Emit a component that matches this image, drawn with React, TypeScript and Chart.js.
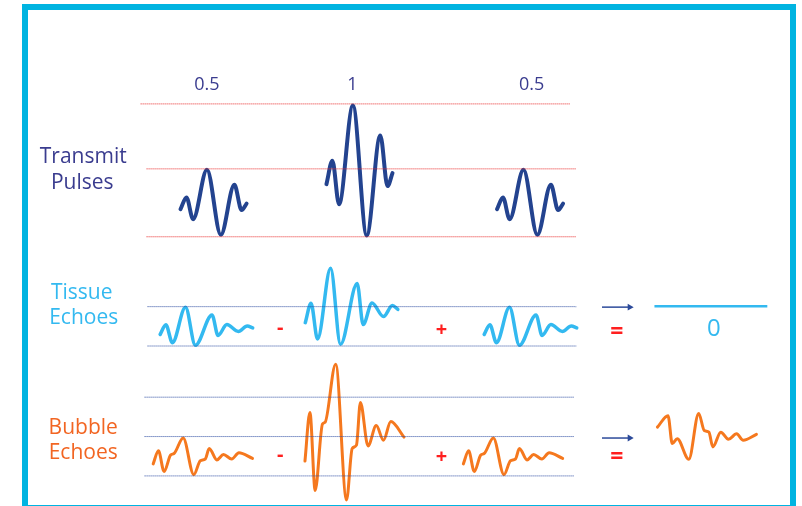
import { useEffect, useRef } from "react";
import { Chart, registerables } from "chart.js";
Chart.register(...registerables);

// ---------------- data ----------------
const amplitudeLabels = ["0.5", "1", "0.5"];
const pulseGains = [0.5, 1, 0.5];
const rowTitles = [["Transmit", "Pulses"], ["Tissue", "Echoes"], ["Bubble", "Echoes"]];
const rowOperators = ["-", "+", "="];
const tissueSumLabel = "0";

// transmit pulse shape (time, normalised amplitude)
const pulseTime = [0, 6, 12.7, 26.7, 40.7, 54.4, 61.7, 66.7];
const pulseAmp = [-0.21, 0.15, -0.52, 1.0, -1.0, 0.54, -0.24, -0.04];

// tissue echo shape (linear: scales with gain)
const tissueTime = [0, 5.8, 12.4, 25.6, 35.6, 52.4, 58.5, 67.4, 79, 88, 93.5];
const tissueAmp = [-0.43, 0.08, -0.86, 1.0, -1.0, 0.6, -0.48, 0.09, -0.27, 0.02, -0.08];
const tissueSumTime = [0, 114];
const tissueSumAmp = [0, 0];

// bubble echoes (non-linear)
const bubbleHalfTime = [0, 5.3, 11, 17.6, 21, 30.3, 41, 47.6, 52.6, 56.6, 64.3, 71, 79.3, 86.6, 100.3];
const bubbleHalfAmp = [-0.38, 0.32, -0.79, 0.09, 0.17, 1.0, -0.96, -0.21, -0.12, 0.44, -0.17, 0.12, -0.12, 0.21, -0.09];
const bubbleFullTime = [0, 5, 10.3, 17.7, 20.3, 31, 42, 47.7, 52, 56, 63.7, 72, 79.3, 86.7, 100];
const bubbleFullAmp = [-1.52, 1.08, -3.09, 0.46, 0.55, 3.66, -3.6, -0.85, -0.67, 1.61, -0.71, 0.38, -0.41, 0.59, -0.24];
const bubbleSumTime = [0, 10.7, 15, 20, 31.7, 41.7, 47.3, 52, 56, 64, 71.7, 80, 86.7, 100];
const bubbleSumAmp = [0.53, 1.14, -0.35, -0.09, -1.19, 1.26, 0.35, 0.26, -0.53, 0.26, -0.12, 0.17, -0.17, 0.14];

// ---------------- layout / style ----------------
const COL = {
  frame: "#00b4e1",
  pulse: "#23438f",
  pulseText: "#3a3c8f",
  tissue: "#33b9f0",
  bubble: "#f5781e",
  bubbleText: "#f26522",
  red: "#ff1f1f",
  redDot: "#e82828",
  navyDot: "#2a4aa0",
  arrow: "#2c4a9a",
};

const transmitLayout = { x0: [178.3, 325.7, 498], base: [201.5, 169.2, 201.5], unit: 66 };
const tissueLayout = { x0: [157.7, 304.3, 485], base: [327.5, 307.2, 327.5], unit: 38.6 };
const bubbleLayout = { x0: [150.7, 304, 464], base: [460, 435.5, 460], unit: 19 };
const tissueSumLayout = { x0: 657, base: 307 };
const bubbleSumLayout = { x0: 660, base: 440, unit: 19 };

const dotRows = [
  { ys: [101.5], x: [138, 572], c: "redDot" },
  { ys: [167.5, 236.5], x: [144, 578], c: "redDot" },
  { ys: [307.5, 347.5], x: [145, 578], c: "navyDot" },
  { ys: [399.5, 439.5, 479.5], x: [142, 576], c: "navyDot" },
];

function wave(t: number[], a: number[], x0: number, base: number, scale: number) {
  return t.map((tt, i) => ({ x: x0 + tt, y: base - a[i] * scale }));
}

function lineDs(data: any[], color: string, width: number, extra: any = {}) {
  return {
    data,
    borderColor: color,
    backgroundColor: color,
    borderWidth: width,
    pointRadius: 0,
    fill: false,
    cubicInterpolationMode: "monotone",
    borderCapStyle: "round",
    borderJoinStyle: "round",
    clip: false,
    ...extra,
  };
}

const textPlugin = {
  id: "diagramText",
  beforeDraw(chart: any) {
    const ctx = chart.ctx;
    ctx.save();
    ctx.strokeStyle = COL.frame;
    ctx.lineWidth = 6;
    ctx.strokeRect(25, 7, 768, 501);
    ctx.restore();
  },
  afterDraw(chart: any) {
    const ctx = chart.ctx;
    const xs = chart.scales.x;
    const ys = chart.scales.y;
    const put = (s: string, x: number, y: number, font: string, color: string) => {
      ctx.font = font;
      ctx.fillStyle = color;
      ctx.textAlign = "center";
      ctx.textBaseline = "alphabetic";
      ctx.fillText(s, xs.getPixelForValue(x), ys.getPixelForValue(y));
    };
    ctx.save();
    const fam = "'Open Sans', 'Noto Sans', sans-serif";
    const ampX = [205, 352, 533];
    amplitudeLabels.forEach((s, i) => put(s, ampX[i], 87, `18px ${fam}`, COL.pulseText));
    const titleColors = [COL.pulseText, COL.tissue, COL.bubbleText];
    const titleY = [[162, 188], [300, 325], [437, 462]];
    const titleX = [[80, 79], [78.5, 80.5], [80, 80]];
    rowTitles.forEach((lines, r) =>
      lines.forEach((s, j) => put(s, titleX[r][j], titleY[r][j], `21px ${fam}`, titleColors[r]))
    );
    // operators (tissue row and bubble row)
    const opX = [279, 442, 619];
    const opY = [[335, 337, 340], [464, 466, 467]];
    opY.forEach((row) =>
      rowOperators.forEach((s, i) => put(s, opX[i], row[i], `bold ${i === 2 ? 23 : 20}px ${fam}`, COL.red))
    );
    put(tissueSumLabel, 717, 337, `24px ${fam}`, COL.tissue);
    ctx.restore();
  },
};

export default function App() {
  const ref = useRef<HTMLCanvasElement | null>(null);
  useEffect(() => {
    if (!ref.current) return;
    const datasets: any[] = [];

    dotRows.forEach((row) =>
      row.ys.forEach((y) =>
        datasets.push({
          data: [{ x: row.x[0], y }, { x: row.x[1], y }],
          borderColor: (COL as any)[row.c],
          borderWidth: 1,
          borderDash: [1, 1],
          pointRadius: 0,
          fill: false,
          tension: 0,
        })
      )
    );

    pulseGains.forEach((g, i) =>
      datasets.push(
        lineDs(wave(pulseTime, pulseAmp, transmitLayout.x0[i], transmitLayout.base[i], g * transmitLayout.unit), COL.pulse, 4)
      )
    );
    pulseGains.forEach((g, i) =>
      datasets.push(
        lineDs(wave(tissueTime, tissueAmp, tissueLayout.x0[i], tissueLayout.base[i], g * tissueLayout.unit), COL.tissue, 3.5)
      )
    );
    const bubbleShapes = [
      [bubbleHalfTime, bubbleHalfAmp],
      [bubbleFullTime, bubbleFullAmp],
      [bubbleHalfTime, bubbleHalfAmp],
    ];
    bubbleShapes.forEach(([t, a], i) =>
      datasets.push(lineDs(wave(t, a, bubbleLayout.x0[i], bubbleLayout.base[i], bubbleLayout.unit), COL.bubble, 3))
    );
    datasets.push(
      lineDs(wave(tissueSumTime, tissueSumAmp, tissueSumLayout.x0, tissueSumLayout.base, 1), COL.tissue, 2.5, {
        cubicInterpolationMode: "default",
        tension: 0,
        borderCapStyle: "butt",
      })
    );
    datasets.push(
      lineDs(wave(bubbleSumTime, bubbleSumAmp, bubbleSumLayout.x0, bubbleSumLayout.base, bubbleSumLayout.unit), COL.bubble, 3)
    );

    // arrows
    [308, 441].forEach((y) =>
      datasets.push({
        data: [{ x: 604, y }, { x: 632, y }],
        borderColor: COL.arrow,
        backgroundColor: COL.arrow,
        borderWidth: 1.5,
        pointRadius: [0, 4],
        pointStyle: "triangle",
        rotation: 90,
        pointBorderWidth: 0,
        fill: false,
        tension: 0,
        clip: false,
      })
    );

    const chart = new Chart(ref.current, {
      type: "line",
      data: { datasets },
      options: {
        animation: false,
        responsive: false,
        maintainAspectRatio: false,
        devicePixelRatio: 1,
        events: [],
        layout: { padding: 0 },
        plugins: { legend: { display: false }, tooltip: { enabled: false } },
        scales: {
          x: { type: "linear", min: 0, max: 802, display: false },
          y: { type: "linear", min: 0, max: 506, reverse: true, display: false },
        },
      },
      plugins: [textPlugin],
    } as any);
    return () => chart.destroy();
  }, []);

  return (
    <div style={{ position: "fixed", left: 0, top: 0, width: 802, height: 506, background: "#fff" }}>
      <canvas ref={ref} width={802} height={506} style={{ display: "block" }} />
    </div>
  );
}
